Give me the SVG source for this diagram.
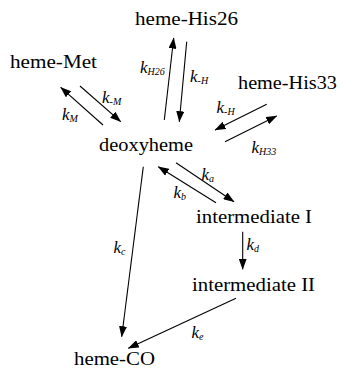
<svg xmlns="http://www.w3.org/2000/svg" width="341" height="370" viewBox="0 0 341 370">
<style>
text{font-family:'Liberation Serif','Times New Roman',serif;fill:#000}
.node{font-size:18px;font-weight:normal}
.k{font-style:italic;font-size:17px}
.sub{font-size:10px}
.edge{stroke:#000;stroke-width:1.1;fill:none;marker-end:url(#ah)}
</style>
<defs>
<marker id="ah" markerUnits="userSpaceOnUse" markerWidth="11" markerHeight="8" refX="10.5" refY="4" orient="auto">
<path d="M0,0 L11,4 L0,8 z" fill="#000"/>
</marker>
</defs>
<rect width="341" height="370" fill="#fff"/>
<g id="connectors">
<line class="edge" x1="103" y1="125" x2="60.7" y2="87.3"/>
<line class="edge" x1="80" y1="86" x2="120.7" y2="121.7"/>
<line class="edge" x1="164.3" y1="120" x2="173.7" y2="38"/>
<line class="edge" x1="186.7" y1="41.7" x2="179.3" y2="121.7"/>
<line class="edge" x1="266.7" y1="104.3" x2="215" y2="130"/>
<line class="edge" x1="225" y1="141.7" x2="276.7" y2="116"/>
<line class="edge" x1="176" y1="162.7" x2="234" y2="201.7"/>
<line class="edge" x1="216" y1="202.7" x2="158.3" y2="166.7"/>
<line class="edge" x1="143.3" y1="166.7" x2="121.7" y2="336.7"/>
<line class="edge" x1="242.7" y1="231.7" x2="242.7" y2="269.3"/>
<line class="edge" x1="236" y1="298.3" x2="128.3" y2="348.3"/>
<text class="k" x="140" y="73">k<tspan class="sub" dy="2">H26</tspan></text>
<text class="k" x="190" y="82">k<tspan class="sub" dy="2">-H</tspan></text>
<text class="k" x="102" y="103">k<tspan class="sub" dy="2">-M</tspan></text>
<text class="k" x="62" y="120">k<tspan class="sub" dy="2">M</tspan></text>
<text class="k" x="216.5" y="113">k<tspan class="sub" dy="2">-H</tspan></text>
<text class="k" x="251.5" y="153">k<tspan class="sub" dy="2">H33</tspan></text>
<text class="k" x="201.5" y="180">k<tspan class="sub" dy="2">a</tspan></text>
<text class="k" x="173.5" y="198">k<tspan class="sub" dy="2">b</tspan></text>
<text class="k" x="113.5" y="253">k<tspan class="sub" dy="2">c</tspan></text>
<text class="k" x="246.5" y="250">k<tspan class="sub" dy="2">d</tspan></text>
<text class="k" x="191.5" y="338">k<tspan class="sub" dy="2">e</tspan></text>
</g>
<g id="heme-His26"><text class="node" x="135" y="25" textLength="103" lengthAdjust="spacingAndGlyphs">heme-His26</text></g>
<g id="heme-Met"><text class="node" x="10" y="68" textLength="87" lengthAdjust="spacingAndGlyphs">heme-Met</text></g>
<g id="heme-His33"><text class="node" x="238" y="88.5" textLength="99" lengthAdjust="spacingAndGlyphs">heme-His33</text></g>
<g id="deoxyheme"><text class="node" x="99" y="150.5" textLength="94" lengthAdjust="spacingAndGlyphs">deoxyheme</text></g>
<g id="intermediate-I"><text class="node" x="196" y="223" textLength="116" lengthAdjust="spacingAndGlyphs">intermediate I</text></g>
<g id="intermediate-II"><text class="node" x="192" y="290.5" textLength="123" lengthAdjust="spacingAndGlyphs">intermediate II</text></g>
<g id="heme-CO"><text class="node" x="74" y="365" textLength="81" lengthAdjust="spacingAndGlyphs">heme-CO</text></g>
</svg>
